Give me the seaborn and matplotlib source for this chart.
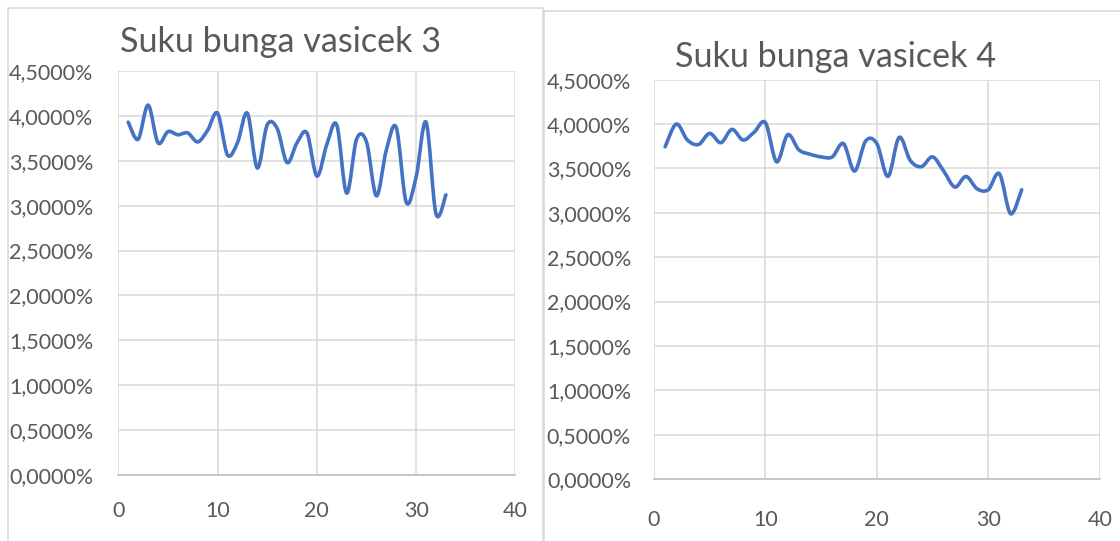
import numpy as np
import matplotlib
matplotlib.use("Agg")
import matplotlib.pyplot as plt
import seaborn as sns
from matplotlib.path import Path
from matplotlib.patches import PathPatch, Rectangle
from matplotlib.ticker import FuncFormatter, MultipleLocator

periods = list(range(1, 34))
rate_v3 = [3.93, 3.74, 4.12, 3.70, 3.825, 3.79, 3.81, 3.71, 3.84, 4.03,
           3.565, 3.70, 4.03, 3.42, 3.90, 3.86, 3.48, 3.70, 3.81, 3.33,
           3.68, 3.90, 3.14, 3.74, 3.71, 3.11, 3.62, 3.87, 3.04, 3.32,
           3.93, 2.91, 3.12]
rate_v4 = [3.744, 4.00, 3.82, 3.77, 3.895, 3.79, 3.94, 3.82, 3.91, 4.015,
           3.575, 3.88, 3.71, 3.66, 3.63, 3.63, 3.78, 3.47, 3.81, 3.78,
           3.41, 3.85, 3.59, 3.52, 3.63, 3.47, 3.29, 3.41, 3.27, 3.26,
           3.44, 2.99, 3.26]
titles = ["Suku bunga vasicek 3", "Suku bunga vasicek 4"]

sns.set_style("white")
plt.rcParams["font.family"] = ["Lato", "DejaVu Sans"]

W, H = 1120, 541
fig = plt.figure(figsize=(W / 100, H / 100), dpi=100)

LINE = "#4472C4"
GRID = "#d9d9d9"
TXT = "#595959"


def smooth_path(xy):
    # excel-style smoothed line: catmull-rom as cubic bezier
    n = len(xy)
    verts, codes = [xy[0]], [Path.MOVETO]
    for i in range(n - 1):
        p0 = xy[i - 1] if i > 0 else xy[i]
        p1, p2 = xy[i], xy[i + 1]
        p3 = xy[i + 2] if i + 2 < n else xy[i + 1]
        verts += [p1 + (p2 - p0) / 6, p2 - (p3 - p1) / 6, p2]
        codes += [Path.CURVE4] * 3
    return Path(verts, codes)


def px_axes(x0, x1, y_top, y_bot):
    return fig.add_axes([x0 / W, (H - y_bot) / H, (x1 - x0) / W, (y_bot - y_top) / H])


# chart area borders
fig.patches.append(Rectangle((8 / W, (H - 543) / H), 535 / W, 535 / H, transform=fig.transFigure,
                             fill=False, edgecolor=GRID, lw=1.2))
fig.patches.append(Rectangle((544 / W, (H - 560) / H), 600 / W, 549 / H, transform=fig.transFigure,
                             fill=False, edgecolor=GRID, lw=1.2))

axes = [px_axes(118.3, 515.4, 71, 475), px_axes(654, 1099.7, 79.7, 479)]
title_pos = [(281, 42), (836, 57)]
pads = [(18, 19), (16.5, 22)]

for ax, vals, title, (tx, ty), (ypad, xpad) in zip(axes, [rate_v3, rate_v4], titles, title_pos, pads):
    sns.lineplot(x=periods, y=vals, ax=ax, color=LINE, lw=2.6)
    line = ax.lines[0]
    line.set_visible(False)
    ax.add_patch(PathPatch(smooth_path(line.get_xydata()), fill=False, edgecolor=LINE,
                           lw=2.6, capstyle="round", joinstyle="round", zorder=3))
    ax.set_xlim(0, 40)
    ax.set_ylim(0, 4.5)
    ax.xaxis.set_major_locator(MultipleLocator(10))
    ax.yaxis.set_major_locator(MultipleLocator(0.5))
    ax.yaxis.set_major_formatter(FuncFormatter(lambda v, p: f"{v:.4f}%".replace(".", ",")))
    ax.grid(True, color=GRID, lw=1.1)
    ax.set_axisbelow(True)
    for s in ["top", "right", "left"]:
        ax.spines[s].set_visible(False)
    ax.spines["bottom"].set_color("#bfbfbf")
    ax.spines["bottom"].set_linewidth(1.2)
    ax.tick_params(length=0, labelsize=15.5, labelcolor=TXT)
    ax.tick_params(axis="y", pad=ypad)
    ax.tick_params(axis="x", pad=xpad)
    ax.set_xlabel("")
    ax.set_ylabel("")
    fig.text(tx / W, 1 - ty / H, title, ha="center", va="center", fontsize=24.6, color=TXT)

fig.savefig("out.png", dpi=100)
